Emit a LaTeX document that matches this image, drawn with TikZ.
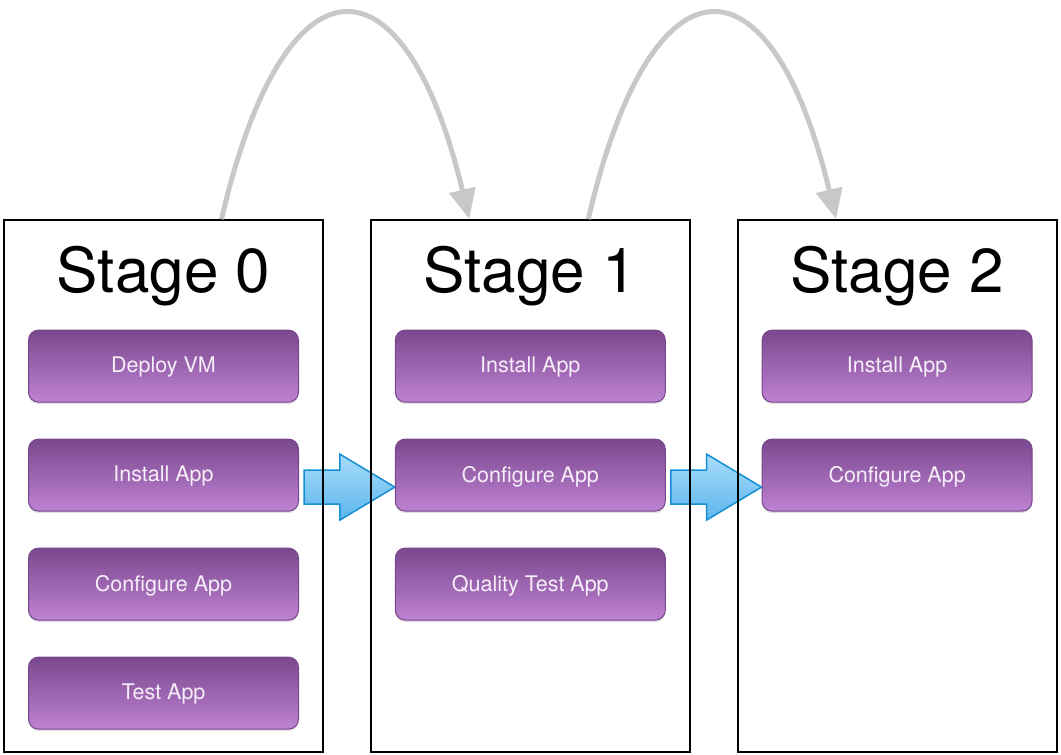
\documentclass[tikz,border=0pt]{standalone}
\usepackage{fontspec}
\setmainfont{TeX Gyre Heros}
\usepackage{tikz}
\usetikzlibrary{arrows.meta, positioning, backgrounds, calc, shadows}
\definecolor{tasktop}{RGB}{122,72,142}
\definecolor{taskbottom}{RGB}{190,130,210}
\definecolor{taskborder}{RGB}{120,70,140}
\definecolor{tasktext}{RGB}{246,238,248}
\definecolor{flowtop}{RGB}{168,220,250}
\definecolor{flowbottom}{RGB}{92,182,238}
\definecolor{flowborder}{RGB}{22,142,212}
\definecolor{hopcolor}{RGB}{200,200,200}

% block arrow from one task to the next stage
\newcommand{\flowarrow}[2]{%
  \path[flow] let \p1=([xshift=5pt,yshift=-12pt]#1.east), \p2=(#2.west) in
    (\x1,\y1+17pt) -- (\x2-55pt,\y1+17pt) -- (\x2-55pt,\y1+33pt) -- (\x2,\y1)
    -- (\x2-55pt,\y1-33pt) -- (\x2-55pt,\y1-17pt) -- (\x1,\y1-17pt) -- cycle;}

\begin{document}
\begin{tikzpicture}[
    stage/.style={rectangle, draw, line width=1.8pt, minimum width=319pt, minimum height=532pt},
    title/.style={font=\fontsize{62}{70}\selectfont, anchor=base, inner sep=0pt},
    task/.style={rectangle, rounded corners=10pt, draw=taskborder, line width=1pt,
        top color=tasktop, bottom color=taskbottom, minimum width=270pt, minimum height=72pt,
        text=tasktext, font=\fontsize{21.5}{25}\selectfont, text depth=2pt,
        drop shadow={shadow xshift=0pt, shadow yshift=-2pt, opacity=0.25}},
    flow/.style={draw=flowborder, line width=1.5pt, top color=flowtop, bottom color=flowbottom, line join=miter},
    hop/.style={draw=hopcolor, line width=5pt, -{Triangle[length=30pt, width=26pt]}}
]
    \useasboundingbox (0,0) rectangle (1061pt,755pt);

    % Stages
    \node[stage] at (163.5pt,269pt) (s0) {};
    \node[stage, right=46pt of s0] (s1) {};
    \node[stage, right=46pt of s1] (s2) {};

    \node[title] at ([yshift=-73pt]s0.north) (h0) {Stage 0};
    \node[title] at ([yshift=-73pt]s1.north) (h1) {Stage 1};
    \node[title] at ([yshift=-73pt]s2.north) (h2) {Stage 2};

    % Tasks in stage 0
    \node[task] at ([yshift=-147pt]s0.north) (t00) {Deploy VM};
    \node[task, below=36pt of t00] (t01) {Install App};
    \node[task, below=36pt of t01] (t02) {Configure App};
    \node[task, below=36pt of t02] (t03) {Test App};

    % Tasks in stage 1
    \node[task] at ([yshift=-147pt]s1.north) (t10) {Install App};
    \node[task, below=36pt of t10] (t11) {Configure App};
    \node[task, below=36pt of t11] (t12) {Quality Test App};

    % Tasks in stage 2
    \node[task] at ([yshift=-147pt]s2.north) (t20) {Install App};
    \node[task, below=36pt of t20] (t21) {Configure App};

    % Block arrows between stages
    \begin{scope}[on background layer]
        \flowarrow{t01}{t11}
        \flowarrow{t11}{t21}
    \end{scope}

    % Hops over the top
    \draw[hop] ([xshift=58pt]s0.north) .. controls +(63pt,272pt) and +(-65pt,272pt) .. ([xshift=-61pt]s1.north);
    \draw[hop] ([xshift=58pt]s1.north) .. controls +(63pt,272pt) and +(-65pt,272pt) .. ([xshift=-61pt]s2.north);
\end{tikzpicture}
\end{document}
